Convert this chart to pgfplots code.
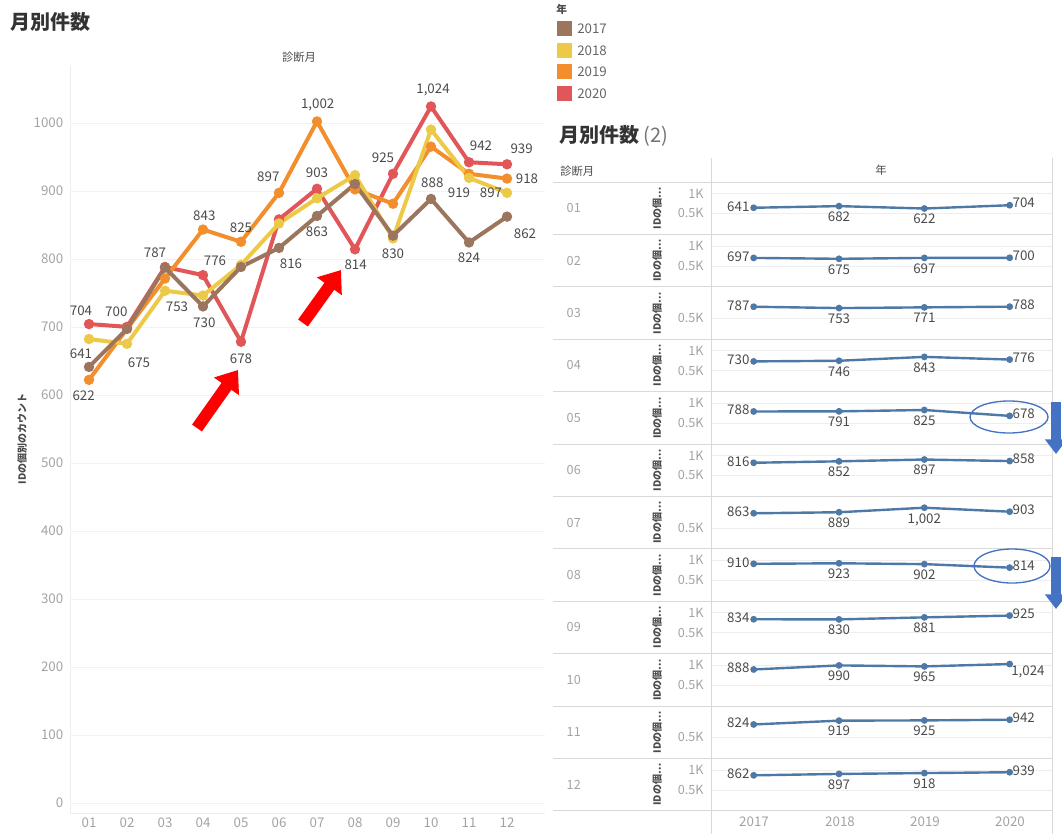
\documentclass[border=0pt]{standalone}
\usepackage{pgfplots}
\pgfplotsset{compat=1.18}
\usepackage{pgfplotstable}
\usepackage{fontspec}
\setmainfont{Noto Sans CJK JP}
\usetikzlibrary{arrows.meta}

\definecolor{c17}{HTML}{9C755F}
\definecolor{c18}{HTML}{EDC948}
\definecolor{c19}{HTML}{F28E2B}
\definecolor{c20}{HTML}{E15759}
\definecolor{rowblue}{HTML}{4E79A7}
\definecolor{annblue}{HTML}{4472C4}
\definecolor{tickgray}{HTML}{A3A3A3}
\definecolor{lblgray}{HTML}{4A4A4A}
\definecolor{rulegray}{HTML}{D9D9D9}

% counts per month and year
\pgfplotstableread{
month y2017 y2018 y2019 y2020
m01 641 682 622 704
m02 697 675 697 700
m03 787 753 771 788
m04 730 746 843 776
m05 788 791 825 678
m06 816 852 897 858
m07 863 889 1002 903
m08 910 923 902 814
m09 834 830 881 925
m10 888 990 965 1024
m11 824 919 925 942
m12 862 897 918 939
}\monthly

\pgfkeys{/pgf/number format/.cd, 1000 sep={,}, assume math mode=true}

\tikzset{
  lbl/.style={font=\fontsize{10}{12}\selectfont, text=lblgray, inner sep=0pt},
}

\pgfplotsset{
  yearline/.style={line width=3pt, mark=*, mark size=2.3pt, mark options={solid}},
  rowax/.style={anchor=north west, scale only axis, width=256pt, height=39.3pt,
    xmin=-0.5, xmax=3.5, ymin=-25, ymax=1285, clip=false,
    axis line style={draw=none}, xtick=\empty, major tick length=0pt,
    ymajorgrids, grid style={rulegray!45},
    yticklabel style={font=\fontsize{9.5}{11}\selectfont, text=tickgray, xshift=-2pt}},
  twok/.style={ytick={500,1000}, yticklabels={0.5K,1K}},
  onek/.style={ytick={500}, yticklabels={0.5K}},
}

% one row of the small multiples: #1 row, #2 month, #3-#6 values 2017-2020, #7 ticks, #8 style of last label
\newcommand{\monthrow}[8]{%
  \begin{axis}[rowax, #7, at={({711*0.75pt},{-(182+(#1-1)*52.4)*0.75pt})}]
    \addplot[rowblue, line width=1.8pt, mark=*, mark size=1.6pt] coordinates {(0,#3)(1,#4)(2,#5)(3,#6)};
    \node[lbl, anchor=east, xshift=-3pt, yshift=1pt] at (axis cs:0,#3) {\pgfmathprintnumber{#3}};
    \node[lbl, anchor=north, yshift=-4pt] at (axis cs:1,#4) {\pgfmathprintnumber{#4}};
    \node[lbl, anchor=north, yshift=-4pt] at (axis cs:2,#5) {\pgfmathprintnumber{#5}};
    \node[lbl, #8] at (axis cs:3,#6) {\pgfmathprintnumber{#6}};
  \end{axis}
  \node[anchor=west, font=\fontsize{9.5}{11}\selectfont, text=tickgray] at ({562*0.75pt},{-(182+(#1-0.5)*52.4)*0.75pt}) {#2};
  \node[rotate=90, font=\fontsize{7.5}{9}\selectfont\bfseries, text=lblgray] at ({657*0.75pt},{-(182+(#1-0.5)*52.4)*0.75pt}) {IDの個…};
}

\begin{document}
\begin{tikzpicture}

% ---------- left chart ----------
\begin{axis}[
  at={(52.5pt,-48.75pt)}, anchor=north west, scale only axis,
  width=356.25pt, height=561pt,
  xmin=0.5, xmax=13, ymin=-15, ymax=1085,
  xtick={1,...,12},
  xticklabels={01,02,03,04,05,06,07,08,09,10,11,12},
  ytick={0,100,...,1000},
  axis x line*=bottom, axis y line*=left,
  axis line style={draw=black!7, -},
  major tick length=0pt,
  ymajorgrids, grid style={black!5},
  ticklabel style={font=\fontsize{10}{12}\selectfont, text=tickgray},
  yticklabel style={xshift=-1.5pt, /pgf/number format/1000 sep={}},
  clip=false,
]
\addplot[yearline, c20] table[x expr=\coordindex+1, y=y2020] {\monthly};
\addplot[yearline, c19] table[x expr=\coordindex+1, y=y2019] {\monthly};
\addplot[yearline, c18] table[x expr=\coordindex+1, y=y2018] {\monthly};
\addplot[yearline, c17] table[x expr=\coordindex+1, y=y2017] {\monthly};

\node[lbl, xshift=-6pt, yshift=10pt] at (axis cs:1,704) {704};
\node[lbl, xshift=-6pt, yshift=10pt] at (axis cs:1,641) {641};
\node[lbl, xshift=-4pt, yshift=-12pt] at (axis cs:1,622) {622};
\node[lbl, xshift=-8pt, yshift=11pt] at (axis cs:2,700) {700};
\node[lbl, xshift=9pt, yshift=-14pt] at (axis cs:2,675) {675};
\node[lbl, xshift=-7.5pt, yshift=11pt] at (axis cs:3,787) {787};
\node[lbl, xshift=9pt, yshift=-12pt] at (axis cs:3,753) {753};
\node[lbl, xshift=1pt, yshift=10.5pt] at (axis cs:4,843) {843};
\node[lbl, xshift=9pt, yshift=10.5pt] at (axis cs:4,776) {776};
\node[lbl, xshift=1pt, yshift=-12.5pt] at (axis cs:4,730) {730};
\node[lbl, xshift=0pt, yshift=10.5pt] at (axis cs:5,825) {825};
\node[lbl, xshift=0pt, yshift=-13pt] at (axis cs:5,678) {678};
\node[lbl, xshift=-8pt, yshift=12pt] at (axis cs:6,897) {897};
\node[lbl, xshift=9pt, yshift=-12pt] at (axis cs:6,816) {816};
\node[lbl, xshift=0.5pt, yshift=12.5pt] at (axis cs:7,1002) {1,002};
\node[lbl, xshift=0pt, yshift=12pt] at (axis cs:7,903) {903};
\node[lbl, xshift=0pt, yshift=-12pt] at (axis cs:7,863) {863};
\node[lbl, xshift=0.5pt, yshift=-11.5pt] at (axis cs:8,814) {814};
\node[lbl, xshift=-7.5pt, yshift=12pt] at (axis cs:9,925) {925};
\node[lbl, xshift=0pt, yshift=-11.5pt] at (axis cs:9,830) {830};
\node[lbl, xshift=1.5pt, yshift=12.5pt] at (axis cs:10,1024) {1,024};
\node[lbl, xshift=1pt, yshift=12pt] at (axis cs:10,888) {888};
\node[lbl, xshift=9pt, yshift=12pt] at (axis cs:11,942) {942};
\node[lbl, xshift=-7.5pt, yshift=-11pt] at (axis cs:11,919) {919};
\node[lbl, xshift=0pt, yshift=-11.5pt] at (axis cs:11,824) {824};
\node[lbl, xshift=11pt, yshift=12pt] at (axis cs:12,939) {939};
\node[lbl, xshift=15pt, yshift=0pt] at (axis cs:12,918) {918};
\node[lbl, xshift=-12pt, yshift=0pt] at (axis cs:12,897) {897};
\node[lbl, xshift=13.5pt, yshift=-12.5pt] at (axis cs:12,862) {862};
\end{axis}

% ---------- right small multiples ----------
\monthrow{1}{01}{641}{682}{622}{704}{twok}{anchor=west, xshift=2pt, yshift=1.5pt}
\monthrow{2}{02}{697}{675}{697}{700}{twok}{anchor=west, xshift=2pt, yshift=1.5pt}
\monthrow{3}{03}{787}{753}{771}{788}{onek}{anchor=west, xshift=2pt, yshift=1.5pt}
\monthrow{4}{04}{730}{746}{843}{776}{twok}{anchor=west, xshift=2pt, yshift=1.5pt}
\monthrow{5}{05}{788}{791}{825}{678}{twok}{anchor=west, xshift=2pt, yshift=1.5pt}
\monthrow{6}{06}{816}{852}{897}{858}{twok}{anchor=west, xshift=2pt, yshift=1.5pt}
\monthrow{7}{07}{863}{889}{1002}{903}{onek}{anchor=west, xshift=2pt, yshift=1.5pt}
\monthrow{8}{08}{910}{923}{902}{814}{twok}{anchor=west, xshift=2pt, yshift=1.5pt}
\monthrow{9}{09}{834}{830}{881}{925}{twok}{anchor=west, xshift=2pt, yshift=1.5pt}
\monthrow{10}{10}{888}{990}{965}{1024}{twok}{anchor=north west, xshift=1pt, yshift=-1pt}
\monthrow{11}{11}{824}{919}{925}{942}{onek}{anchor=west, xshift=2pt, yshift=1.5pt}
\monthrow{12}{12}{862}{897}{918}{939}{twok}{anchor=west, xshift=2pt, yshift=1.5pt}

% ---------- text, rules and annotations (pixel grid) ----------
\begin{scope}[x=0.75pt, y=-0.75pt]
  \node[anchor=west, font=\fontsize{15}{18}\selectfont\bfseries, text=black!80] at (6,22) {月別件数};
  \node[font=\fontsize{8.5}{10}\selectfont, text=lblgray] at (299,57) {診断月};
  \node[rotate=90, font=\fontsize{7.5}{9}\selectfont\bfseries, text=lblgray] at (22,439) {IDの個別のカウント};

  % legend
  \node[anchor=west, font=\fontsize{8}{9}\selectfont\bfseries, text=lblgray, inner sep=0pt] at (556,9) {年};
  \foreach \yy/\cc/\tt in {29/c17/2017, 51/c18/2018, 72/c19/2019, 94/c20/2020} {
    \fill[\cc] (557,\yy-7.5) rectangle (572,\yy+7.5);
    \node[anchor=west, font=\fontsize{10}{12}\selectfont, text=black!60, inner sep=0pt] at (577,\yy) {\tt};
  }

  \node[anchor=west, font=\fontsize{15}{18}\selectfont, inner sep=0pt] at (559,136) {\textbf{\color{black!80}月別件数} {\color{black!55}(2)}};
  \node[anchor=west, font=\fontsize{8.5}{10}\selectfont, text=lblgray, inner sep=0pt] at (560,171) {診断月};
  \node[font=\fontsize{8.5}{10}\selectfont, text=lblgray] at (881,170) {年};

  \draw[rulegray, line width=0.6pt] (711,158) -- (711,834);
  \draw[rulegray, line width=0.6pt] (1052,158) -- (1052,834);
  \foreach \k in {0,...,12} {
    \draw[rulegray, line width=0.6pt] (553,182+\k*52.4) -- (1052,182+\k*52.4);
  }
  \foreach \xx/\tt in {754/2017, 840/2018, 925/2019, 1010/2020} {
    \node[font=\fontsize{10}{12}\selectfont, text=tickgray] at (\xx,822) {\tt};
  }

  % red arrows
  \draw[red, line width=9pt, -{Triangle[length=15pt, width=22pt]}] (197,428) -- (238,370);
  \draw[red, line width=9pt, -{Triangle[length=15pt, width=22pt]}] (303,323) -- (341,270);

  % blue marks
  \draw[annblue, line width=1pt] (1009,417) ellipse [x radius=39, y radius=16];
  \draw[annblue, line width=1pt] (1012,566) ellipse [x radius=38, y radius=17];
  \draw[annblue, line width=8pt, -{Triangle[length=11pt, width=16pt]}] (1056,402) -- (1056,454);
  \draw[annblue, line width=8pt, -{Triangle[length=11pt, width=16pt]}] (1056,557) -- (1056,609);
\end{scope}

\pgfresetboundingbox
\path[use as bounding box] (0,0) rectangle (796.5pt,-625.5pt);
\end{tikzpicture}
\end{document}
